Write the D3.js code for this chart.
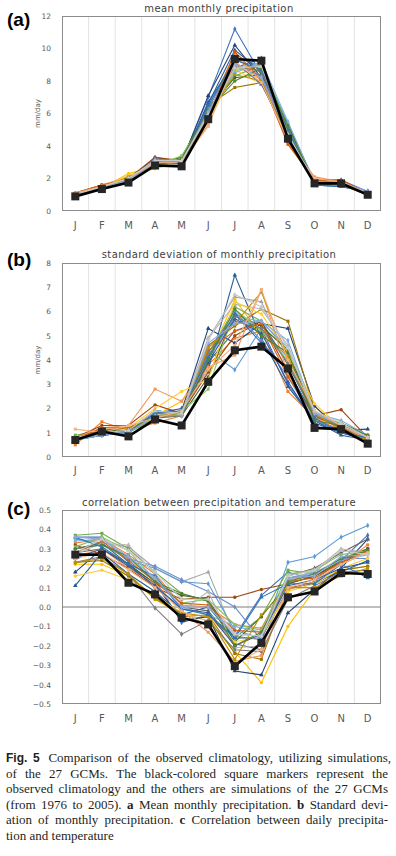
<!DOCTYPE html>
<html>
<head>
<meta charset="utf-8">
<script src="https://cdn.jsdelivr.net/npm/d3@7"></script>
<style>
  body { margin: 0; background: #fff; }
  svg { display: block; }
</style>
</head>
<body>
<script>
var months = ["J", "F", "M", "A", "M", "J", "J", "A", "S", "O", "N", "D"];

// excel-ish palette, one colour per GCM
var gcmColors = ["#4472C4", "#ED7D31", "#A5A5A5", "#FFC000", "#5B9BD5", "#70AD47",
                 "#264478", "#9E480E", "#636363", "#997300", "#255E91", "#43682B",
                 "#698ED0", "#F1975A", "#B7B7B7", "#FFCD33", "#7CAFDD", "#8CC168",
                 "#335AA1", "#D26012", "#7C7C7C", "#BF9000", "#2E75B6", "#548235",
                 "#8FAADC", "#F4B183", "#C9C9C9"];

// (a) mean monthly precipitation, mm/day
var meanObs = [0.9, 1.35, 1.75, 2.8, 2.75, 5.65, 9.35, 9.25, 4.45, 1.7, 1.7, 1.0];
var meanGcm = [
  [1.0, 1.4, 1.9, 3.1, 3.0, 7.0, 11.2, 8.4, 4.7, 1.8, 1.9, 1.2],
  [1.1, 1.6, 1.9, 3.2, 3.0, 6.2, 9.7, 8.6, 4.2, 2.0, 1.8, 1.1],
  [1.0, 1.4, 2.0, 3.0, 3.1, 6.0, 9.0, 8.8, 4.6, 1.8, 1.7, 1.1],
  [1.0, 1.4, 2.3, 2.7, 3.2, 5.8, 8.9, 8.1, 4.5, 1.9, 1.6, 1.1],
  [1.0, 1.5, 1.9, 3.0, 2.9, 6.3, 9.5, 8.9, 5.4, 1.8, 1.8, 1.2],
  [1.0, 1.4, 2.0, 2.9, 3.3, 6.1, 8.3, 9.0, 5.2, 1.7, 1.7, 1.1],
  [1.0, 1.4, 1.9, 3.3, 3.0, 7.1, 10.2, 8.2, 4.8, 1.7, 1.6, 1.2],
  [1.1, 1.6, 2.0, 3.3, 3.1, 6.0, 9.4, 8.5, 4.3, 1.9, 1.9, 1.1],
  [1.0, 1.5, 1.9, 2.9, 3.0, 6.1, 8.8, 9.4, 4.6, 1.8, 1.7, 1.1],
  [1.0, 1.4, 2.0, 2.8, 3.1, 6.5, 7.6, 7.9, 4.4, 1.7, 1.7, 1.1],
  [1.0, 1.4, 1.9, 3.0, 3.0, 6.6, 9.9, 8.6, 5.0, 1.6, 1.5, 1.2],
  [1.0, 1.5, 2.0, 2.8, 3.3, 6.3, 8.2, 8.4, 5.3, 1.8, 1.7, 1.1],
  [1.0, 1.5, 1.9, 3.2, 3.1, 6.4, 9.1, 8.3, 4.9, 1.7, 1.8, 1.2],
  [1.1, 1.6, 2.1, 2.9, 3.0, 5.3, 9.6, 8.0, 4.3, 2.1, 1.8, 1.1],
  [1.0, 1.5, 2.0, 3.0, 3.2, 5.9, 8.6, 9.1, 4.7, 1.8, 1.7, 1.1],
  [1.0, 1.4, 2.2, 2.6, 3.0, 5.5, 8.7, 7.8, 4.6, 1.7, 1.6, 1.0],
  [1.0, 1.4, 1.9, 2.9, 2.9, 6.2, 8.5, 9.2, 5.5, 1.7, 1.8, 1.2],
  [1.0, 1.5, 2.0, 2.8, 3.4, 6.0, 8.7, 9.0, 5.1, 1.7, 1.6, 1.1],
  [1.0, 1.4, 1.8, 3.1, 2.9, 6.7, 9.2, 7.8, 4.6, 1.7, 1.6, 1.2],
  [1.1, 1.6, 1.9, 3.1, 3.0, 5.7, 9.8, 8.1, 4.1, 1.9, 1.9, 1.1],
  [1.0, 1.4, 2.0, 2.9, 3.0, 5.9, 8.9, 8.6, 4.8, 1.8, 1.7, 1.1],
  [1.0, 1.4, 2.1, 2.7, 3.1, 6.0, 8.4, 8.0, 4.4, 1.8, 1.6, 1.0],
  [1.0, 1.3, 1.9, 3.0, 3.0, 6.5, 9.3, 8.7, 5.0, 1.6, 1.5, 1.2],
  [1.0, 1.4, 2.0, 2.8, 3.2, 6.2, 8.0, 8.8, 5.2, 1.7, 1.7, 1.1],
  [1.0, 1.4, 1.9, 3.0, 3.0, 6.1, 9.0, 8.2, 4.7, 1.7, 1.7, 1.2],
  [1.1, 1.5, 2.0, 3.0, 3.0, 5.2, 9.2, 7.9, 4.4, 2.0, 1.8, 1.1],
  [1.0, 1.5, 2.0, 3.1, 3.1, 5.9, 8.8, 8.9, 4.7, 1.8, 1.7, 1.1]
];

// (b) standard deviation of monthly precipitation, mm/day
var sdObs = [0.7, 1.05, 0.85, 1.55, 1.3, 3.1, 4.4, 4.55, 3.65, 1.2, 1.15, 0.55];
var sdGcm = [
  [0.7, 0.9, 1.0, 1.9, 1.8, 4.2, 5.6, 5.3, 3.0, 1.5, 1.0, 0.7],
  [0.5, 1.45, 1.1, 1.4, 1.7, 3.8, 4.9, 5.2, 2.7, 1.6, 1.1, 0.6],
  [0.8, 1.0, 1.1, 1.8, 1.9, 4.9, 6.6, 6.4, 4.0, 1.8, 1.2, 0.8],
  [0.7, 1.0, 1.2, 1.7, 2.3, 4.0, 6.5, 5.0, 4.2, 2.1, 1.1, 0.6],
  [0.7, 0.9, 1.0, 1.7, 1.8, 4.4, 3.6, 5.3, 4.1, 1.7, 1.3, 0.8],
  [0.9, 1.1, 1.0, 1.6, 1.8, 4.1, 6.2, 5.6, 4.4, 1.6, 1.4, 0.9],
  [0.8, 1.0, 1.1, 1.8, 1.9, 5.3, 4.7, 5.5, 5.3, 2.1, 1.1, 1.15],
  [0.8, 1.3, 1.3, 2.15, 1.8, 3.5, 5.0, 5.6, 3.5, 1.7, 1.95, 0.8],
  [0.7, 1.0, 1.1, 1.6, 1.7, 3.9, 5.2, 5.6, 3.8, 1.7, 1.2, 0.7],
  [0.8, 1.1, 1.2, 1.6, 1.9, 4.6, 5.4, 6.1, 5.6, 1.9, 1.2, 0.8],
  [0.7, 0.9, 1.0, 1.8, 2.0, 3.6, 7.5, 4.9, 2.9, 1.5, 0.9, 0.7],
  [0.8, 1.1, 1.1, 1.7, 1.7, 3.3, 5.9, 5.4, 4.4, 1.6, 1.4, 0.9],
  [0.7, 1.0, 1.0, 1.9, 1.8, 4.3, 6.0, 4.8, 3.3, 1.5, 1.1, 0.8],
  [0.8, 1.2, 1.3, 2.8, 2.3, 3.7, 4.2, 6.9, 3.4, 1.6, 1.3, 0.7],
  [0.7, 1.0, 1.1, 1.8, 1.8, 4.9, 6.3, 6.1, 4.6, 1.9, 1.3, 0.7],
  [0.7, 0.9, 1.2, 2.0, 2.7, 3.2, 6.4, 5.9, 4.3, 2.2, 1.2, 0.6],
  [0.7, 0.9, 1.0, 1.8, 1.7, 4.0, 5.8, 5.6, 4.8, 1.8, 1.5, 0.9],
  [0.8, 1.0, 1.1, 1.6, 1.9, 2.8, 6.1, 5.2, 4.0, 1.7, 1.4, 0.8],
  [0.7, 1.0, 1.1, 1.9, 1.8, 3.9, 5.7, 5.1, 3.1, 1.4, 1.0, 0.7],
  [0.7, 1.2, 1.2, 1.7, 1.7, 4.4, 5.2, 5.5, 3.3, 1.7, 1.2, 0.7],
  [0.8, 1.0, 1.1, 1.8, 1.9, 4.3, 5.8, 5.3, 3.9, 1.7, 1.3, 0.8],
  [0.7, 1.0, 1.1, 1.7, 1.8, 4.5, 5.5, 6.8, 4.1, 1.8, 1.1, 0.7],
  [0.7, 0.9, 1.0, 1.8, 1.9, 4.1, 5.9, 4.7, 3.6, 1.6, 1.0, 0.8],
  [0.8, 1.0, 1.1, 1.7, 1.7, 4.0, 6.1, 5.0, 4.3, 1.5, 1.3, 0.9],
  [0.7, 0.9, 1.0, 1.7, 1.7, 4.7, 5.5, 5.6, 4.5, 1.8, 1.3, 0.8],
  [1.15, 1.0, 1.3, 1.6, 1.9, 3.6, 4.6, 6.9, 4.0, 1.9, 1.3, 0.8],
  [0.8, 1.0, 1.1, 1.9, 1.8, 4.8, 6.7, 6.2, 4.5, 1.9, 1.4, 0.8]
];

// (c) correlation between precipitation and temperature
var corObs = [0.27, 0.27, 0.125, 0.065, -0.055, -0.09, -0.305, -0.185, 0.05, 0.08, 0.175, 0.17];
var corGcm = [
  [0.36, 0.36, 0.23, 0.14, -0.08, -0.04, -0.15, 0.06, 0.18, 0.14, 0.24, 0.37],
  [0.33, 0.35, 0.27, 0.17, 0.01, 0.00, -0.09, -0.11, 0.14, 0.16, 0.22, 0.32],
  [0.30, 0.33, 0.31, 0.20, 0.13, 0.18, -0.15, -0.17, 0.15, 0.18, 0.29, 0.28],
  [0.22, 0.22, 0.16, 0.04, -0.04, -0.07, -0.23, -0.39, -0.10, 0.09, 0.19, 0.21],
  [0.35, 0.33, 0.24, 0.20, 0.13, 0.12, -0.12, -0.16, 0.23, 0.26, 0.36, 0.42],
  [0.37, 0.38, 0.30, 0.18, 0.07, 0.03, -0.16, -0.05, 0.19, 0.17, 0.25, 0.30],
  [0.18, 0.30, 0.22, 0.12, -0.07, -0.05, -0.33, -0.35, -0.03, 0.09, 0.20, 0.35],
  [0.32, 0.27, 0.20, 0.10, 0.04, 0.05, 0.05, 0.09, 0.12, 0.16, 0.23, 0.30],
  [0.28, 0.30, 0.22, 0.10, 0.00, -0.02, -0.19, -0.22, 0.16, 0.20, 0.28, 0.35],
  [0.23, 0.24, 0.16, 0.05, -0.05, -0.04, -0.24, -0.27, 0.10, 0.12, 0.19, 0.21],
  [0.11, 0.28, 0.17, 0.08, -0.04, 0.00, -0.16, -0.16, 0.09, 0.13, 0.18, 0.24],
  [0.30, 0.33, 0.22, 0.12, 0.06, 0.04, -0.18, -0.05, 0.12, 0.16, 0.24, 0.30],
  [0.30, 0.32, 0.25, 0.21, 0.14, 0.08, 0.00, -0.17, 0.15, 0.17, 0.25, 0.25],
  [0.26, 0.30, 0.20, 0.12, -0.02, -0.13, -0.28, -0.25, 0.09, 0.13, 0.22, 0.28],
  [0.27, 0.33, 0.32, 0.17, -0.02, 0.08, -0.21, -0.20, 0.13, 0.19, 0.30, 0.28],
  [0.16, 0.19, 0.14, 0.06, -0.03, -0.05, -0.18, -0.15, 0.08, 0.12, 0.20, 0.25],
  [0.34, 0.35, 0.25, 0.14, 0.00, -0.04, -0.10, -0.13, 0.14, 0.18, 0.24, 0.27],
  [0.31, 0.36, 0.29, 0.14, 0.02, 0.04, -0.09, -0.12, 0.17, 0.19, 0.27, 0.29],
  [0.25, 0.30, 0.21, 0.11, -0.01, -0.03, -0.20, -0.14, 0.11, 0.14, 0.20, 0.23],
  [0.28, 0.34, 0.24, 0.13, 0.02, 0.01, -0.12, -0.13, 0.13, 0.15, 0.23, 0.29],
  [0.23, 0.26, 0.17, -0.005, -0.14, -0.07, -0.22, -0.23, 0.04, 0.11, 0.18, 0.19],
  [0.23, 0.25, 0.17, 0.04, -0.03, -0.05, -0.27, -0.04, 0.10, 0.10, 0.16, 0.20],
  [0.36, 0.31, 0.22, 0.16, -0.01, -0.04, -0.16, 0.05, 0.12, 0.12, 0.22, 0.15],
  [0.30, 0.32, 0.26, 0.13, 0.07, 0.03, -0.20, -0.13, 0.13, 0.17, 0.25, 0.29],
  [0.36, 0.35, 0.26, 0.15, 0.00, 0.00, -0.14, -0.15, 0.15, 0.16, 0.26, 0.27],
  [0.25, 0.28, 0.19, 0.10, -0.02, -0.10, -0.29, -0.22, 0.10, 0.14, 0.22, 0.28],
  [0.28, 0.35, 0.29, 0.18, 0.04, 0.04, -0.14, -0.15, 0.16, 0.19, 0.29, 0.27]
];

var meanTicks = [0, 2, 4, 6, 8, 10, 12];
var sdTicks = [0, 1, 2, 3, 4, 5, 6, 7, 8];
var corTicks = [-0.5, -0.4, -0.3, -0.2, -0.1, 0, 0.1, 0.2, 0.3, 0.4, 0.5];

var captionLines = [
  "^Fig. ^5  Comparison of the observed climatology, utilizing simulations,",
  "of the 27 GCMs. The black-colored square markers represent the",
  "observed climatology and the others are simulations of the 27 GCMs",
  "(from 1976 to 2005). *a Mean monthly precipitation. *b Standard devi-",
  "ation of monthly precipitation. *c Correlation between daily precipita-",
  "tion and temperature"
];

var width = 396, height = 856;
var left = 62, right = 381;
var chartFont = "'DejaVu Sans', sans-serif";
var symbols = [d3.symbolDiamond, d3.symbolSquare, d3.symbolTriangle, d3.symbolCircle];

var svg = d3.select("body").append("svg")
            .attr("width", width)
            .attr("height", height);

var panels = [
  { tag: "(a)", tagY: 26, title: "mean monthly precipitation", titleY: 12,
    top: 16, bottom: 211, domain: [0, 12], ticks: meanTicks, fmt: d3.format("d"),
    obs: meanObs, gcm: meanGcm, unit: "mm/day" },
  { tag: "(b)", tagY: 266, title: "standard deviation of monthly precipitation", titleY: 258,
    top: 263, bottom: 457, domain: [0, 8], ticks: sdTicks, fmt: d3.format("d"),
    obs: sdObs, gcm: sdGcm, unit: "mm/day" },
  { tag: "(c)", tagY: 515, title: "correlation between precipitation and temperature", titleY: 506,
    top: 510, bottom: 704, domain: [-0.5, 0.5], ticks: corTicks, fmt: d3.format(".1f"),
    obs: corObs, gcm: corGcm, unit: null }
];

var x = d3.scaleBand()
          .domain(d3.range(12))
          .range([left, right]);
var cx = function (i) { return x(i) + x.bandwidth() / 2; };

panels.forEach(function (p) {
    var y = d3.scaleLinear()
              .domain(p.domain)
              .range([p.bottom, p.top]);

    var g = svg.append("g");

    // vertical grid at month boundaries
    g.selectAll(".grid")
     .data(d3.range(1, 12))
     .enter().append("line")
       .attr("x1", function (i) { return x(i); })
       .attr("x2", function (i) { return x(i); })
       .attr("y1", p.top)
       .attr("y2", p.bottom)
       .attr("stroke", "#e3e3e3")
       .attr("stroke-width", 1);

    // frame
    g.append("rect")
     .attr("x", left + 0.5)
     .attr("y", p.top + 0.5)
     .attr("width", right - left - 1)
     .attr("height", p.bottom - p.top - 1)
     .attr("fill", "none")
     .attr("stroke", "#8c8c8c");

    if (p.domain[0] < 0) {
        g.append("line")
         .attr("x1", left).attr("x2", right)
         .attr("y1", y(0)).attr("y2", y(0))
         .attr("stroke", "#7f7f7f");
    }

    var yAxis = d3.axisLeft(y)
                  .tickValues(p.ticks)
                  .tickSize(0)
                  .tickPadding(11)
                  .tickFormat(p.fmt);
    var ya = g.append("g")
              .attr("transform", "translate(" + left + ",0)")
              .call(yAxis);
    ya.select(".domain").remove();
    ya.selectAll("text")
      .attr("fill", "#595959")
      .style("font-family", chartFont)
      .style("font-size", "7.5px");

    var xAxis = d3.axisBottom(x)
                  .tickSize(0)
                  .tickPadding(p.bottom === 457 ? 10 : 11)
                  .tickFormat(function (i) { return months[i]; });
    var xa = g.append("g")
              .attr("transform", "translate(0," + p.bottom + ")")
              .call(xAxis);
    xa.select(".domain").remove();
    xa.selectAll("text")
      .attr("fill", "#595959")
      .style("font-family", chartFont)
      .style("font-size", "10px");

    var line = d3.line()
                 .x(function (d, i) { return cx(i); })
                 .y(function (d) { return y(d); });

    // 27 GCMs
    p.gcm.forEach(function (s, k) {
        var col = gcmColors[k];
        g.append("path")
         .datum(s)
         .attr("d", line)
         .attr("fill", "none")
         .attr("stroke", col)
         .attr("stroke-width", 1.1);
        g.selectAll(".m" + k)
         .data(s)
         .enter().append("path")
           .attr("transform", function (d, i) { return "translate(" + cx(i) + "," + y(d) + ")"; })
           .attr("d", d3.symbol().type(symbols[k % 4]).size(9))
           .attr("fill", col);
    });

    // observed
    g.append("path")
     .datum(p.obs)
     .attr("d", line)
     .attr("fill", "none")
     .attr("stroke", "#000")
     .attr("stroke-width", 2.6);
    g.selectAll(".obs")
     .data(p.obs)
     .enter().append("rect")
       .attr("x", function (d, i) { return cx(i) - 4; })
       .attr("y", function (d) { return y(d) - 4; })
       .attr("width", 8)
       .attr("height", 8)
       .attr("fill", "#262626");

    // titles and labels
    svg.append("text")
       .attr("x", 219)
       .attr("y", p.titleY)
       .attr("text-anchor", "middle")
       .attr("fill", "#404040")
       .style("font-family", chartFont)
       .style("font-size", "10px")
       .style("letter-spacing", "0.4px")
       .text(p.title);

    svg.append("text")
       .attr("x", 7)
       .attr("y", p.tagY)
       .style("font-family", "'Liberation Sans', Arial, sans-serif")
       .style("font-weight", "bold")
       .style("font-size", "19px")
       .text(p.tag);

    if (p.unit) {
        var my = (p.top + p.bottom) / 2;
        svg.append("text")
           .attr("transform", "translate(40," + my + ") rotate(-90)")
           .attr("text-anchor", "middle")
           .attr("fill", "#595959")
           .style("font-family", chartFont)
           .style("font-size", "7px")
           .text(p.unit);
    }
});

// caption, justified word by word
var cap = svg.append("g");
captionLines.forEach(function (line, li) {
    var yy = 762 + li * 15.6;
    var words = line.split(/ +/);
    var nodes = words.map(function (w) {
        var bold = false, sans = false;
        if (w[0] === "^") { bold = true; sans = true; w = w.slice(1); }
        else if (w[0] === "*") { bold = true; w = w.slice(1); }
        return cap.append("text")
                  .attr("y", yy)
                  .attr("fill", "#231f20")
                  .style("font-family", sans ? "'Liberation Sans', Arial, sans-serif" : "'Liberation Serif', 'Times New Roman', serif")
                  .style("font-weight", bold ? "bold" : "normal")
                  .style("font-size", sans ? "12px" : "13px")
                  .text(w);
    });
    var widths = nodes.map(function (n) { return n.node().getComputedTextLength(); });
    var last = li === captionLines.length - 1;
    var gap = last ? 3.3 : (382 - d3.sum(widths)) / (nodes.length - 1);
    var xx = 6;
    nodes.forEach(function (n, i) {
        n.attr("x", xx);
        xx += widths[i] + gap + (i === 1 && li === 0 ? 3 : 0);
    });
});
</script>
</body>
</html>
